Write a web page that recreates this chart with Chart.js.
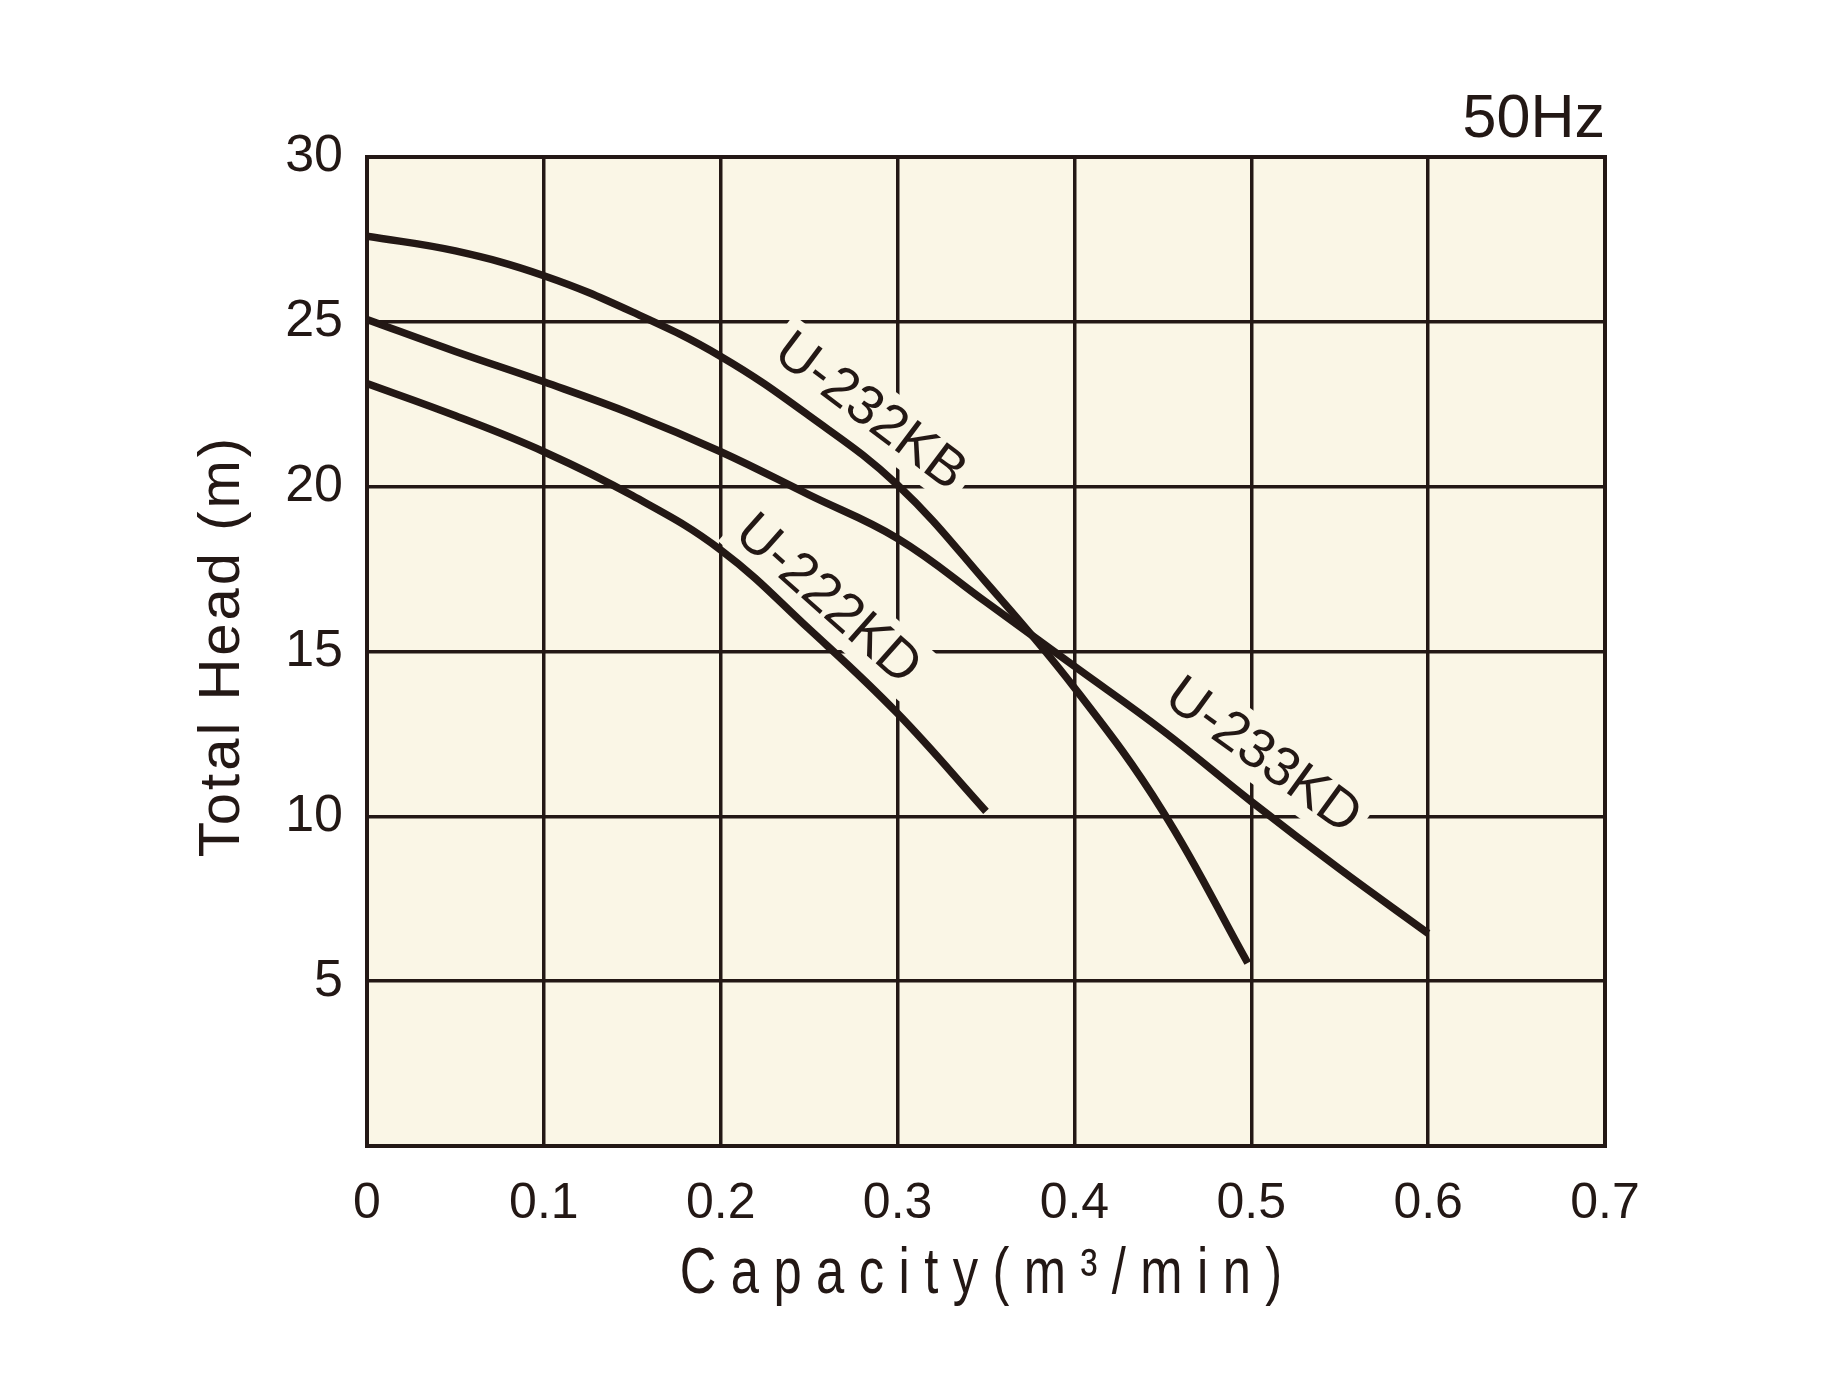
<!DOCTYPE html>
<html>
<head>
<meta charset="utf-8">
<title>Pump performance curves 50Hz</title>
<script src="https://cdn.jsdelivr.net/npm/chart.js@4.4.1/dist/chart.umd.min.js"></script>
<style>
  html, body { margin: 0; padding: 0; background: #fff; }
  #wrap { width: 1826px; height: 1381px; }
</style>
</head>
<body>
<div id="wrap"><canvas id="pumpChart" width="1826" height="1381"></canvas></div>
<script>
// capacity (m3/min) and total head (m)
const capacity232KB = [0, 0.05, 0.1, 0.15, 0.2, 0.25, 0.3, 0.35, 0.4, 0.45, 0.498];
const head232KB = [27.6, 27.15, 26.4, 25.3, 23.95, 22.15, 20.05, 17.1, 13.9, 10.15, 5.55];

const capacity233KD = [0, 0.05, 0.1, 0.15, 0.2, 0.25, 0.3, 0.35, 0.4, 0.45, 0.5, 0.55, 0.6];
const head233KD = [25.07, 24.1, 23.18, 22.2, 21.06, 19.75, 18.43, 16.5, 14.55, 12.6, 10.45, 8.4, 6.45];

const capacity222KD = [0, 0.05, 0.1, 0.15, 0.2, 0.25, 0.3, 0.35];
const head222KD = [23.13, 22.15, 21.06, 19.73, 18.08, 15.68, 13.12, 10.15];

const xTickLabels = ['0', '0.1', '0.2', '0.3', '0.4', '0.5', '0.6', '0.7'];
const yTickLabels = ['', '5', '10', '15', '20', '25', '30'];

// curve names, where they sit (data units) and their slant
const curveLabels = ['U-232KB', 'U-222KD', 'U-233KD'];
const labelCapacity = [0.285, 0.261, 0.507];
const labelHead = [22.3, 16.6, 11.86];
const labelAngle = [37, 41.5, 36];

const freqLabel = '50Hz';
const xTitle = 'Capacity(m³/min)';
const yTitle = 'Total Head (m)';

const ink = '#231815';
const plotBg = '#faf6e6';
const family = '"Liberation Sans", Arial, Helvetica, sans-serif';

function toPoints(xs, ys) {
  return xs.map((x, i) => ({ x: x, y: ys[i] }));
}

const chartTexts = {
  id: 'chartTexts',
  beforeDraw(chart) {
    const { ctx, chartArea: a } = chart;
    ctx.save();
    ctx.fillStyle = plotBg;
    ctx.fillRect(a.left, a.top, a.right - a.left, a.bottom - a.top);
    ctx.restore();
  },
  beforeDatasetsDraw(chart) {
    const { ctx, chartArea: a, scales: { x, y } } = chart;
    ctx.save();
    ctx.font = '55px ' + family;
    ctx.textAlign = 'center';
    ctx.textBaseline = 'middle';
    curveLabels.forEach((t, i) => {
      const px = x.getPixelForValue(labelCapacity[i]);
      const py = y.getPixelForValue(labelHead[i]);
      const w = ctx.measureText(t).width;
      ctx.save();
      ctx.translate(px, py);
      ctx.rotate(labelAngle[i] * Math.PI / 180);
      ctx.fillStyle = plotBg;
      ctx.fillRect(-w / 2 - 8, -30, w + 16, 60);
      ctx.fillStyle = ink;
      ctx.fillText(t, 0, 2);
      ctx.restore();
    });
    // frame round the plot
    ctx.strokeStyle = ink;
    ctx.lineWidth = 4;
    ctx.strokeRect(a.left, a.top, a.right - a.left, a.bottom - a.top);
    ctx.restore();
  },
  afterDraw(chart) {
    const { ctx, chartArea: a } = chart;
    ctx.save();
    ctx.fillStyle = ink;
    ctx.font = '61px ' + family;
    ctx.textAlign = 'right';
    ctx.textBaseline = 'alphabetic';
    ctx.fillText(freqLabel, a.right, a.top - 20);

    // x title, condensed and letter spaced
    let spacing = 18.5;
    ctx.save();
    ctx.font = '65px ' + family;
    ctx.letterSpacing = spacing + 'px';
    ctx.textAlign = 'left';
    ctx.translate((a.left + a.right) / 2 - 5, a.bottom + 147);
    ctx.scale(0.78, 1);
    let w = ctx.measureText(xTitle).width - spacing;
    ctx.fillText(xTitle, -w / 2, 0);
    ctx.restore();

    // y title
    spacing = 3;
    ctx.save();
    ctx.font = '58px ' + family;
    ctx.letterSpacing = spacing + 'px';
    ctx.textAlign = 'left';
    ctx.textBaseline = 'middle';
    ctx.translate(223, (a.top + a.bottom) / 2 - 4);
    ctx.rotate(-Math.PI / 2);
    w = ctx.measureText(yTitle).width - spacing;
    ctx.fillText(yTitle, -w / 2, 0);
    ctx.restore();
    ctx.restore();
  }
};

const ctx = document.getElementById('pumpChart').getContext('2d');
const pumpChart = new Chart(ctx, {
  type: 'line',
  data: {
    datasets: [
      { label: 'U-232KB', data: toPoints(capacity232KB, head232KB) },
      { label: 'U-233KD', data: toPoints(capacity233KD, head233KD) },
      { label: 'U-222KD', data: toPoints(capacity222KD, head222KD) }
    ].map(ds => Object.assign(ds, {
      borderColor: ink,
      borderWidth: 7.5,
      pointRadius: 0,
      fill: false,
      tension: 0.4
    }))
  },
  options: {
    responsive: false,
    animation: false,
    layout: { padding: { left: 0, right: 221, top: 157, bottom: 0 } },
    plugins: {
      legend: { display: false },
      tooltip: { enabled: false }
    },
    scales: {
      x: {
        type: 'linear',
        position: 'bottom',
        min: 0,
        max: 0.7,
        afterFit(scale) { scale.height = 235; },
        grid: { color: ink, lineWidth: 3.5, drawTicks: false },
        border: { display: true, color: ink, width: 4 },
        ticks: {
          stepSize: 0.1,
          padding: 33,
          color: ink,
          font: { family: family, size: 50, lineHeight: 1 },
          callback: (v, i) => xTickLabels[i]
        }
      },
      y: {
        type: 'linear',
        position: 'left',
        min: 0,
        max: 30,
        afterFit(scale) { scale.width = 367; },
        grid: { color: ink, lineWidth: 3.5, drawTicks: false },
        border: { display: true, color: ink, width: 4 },
        ticks: {
          stepSize: 5,
          padding: 24,
          color: ink,
          font: { family: family, size: 52, lineHeight: 1 },
          callback: (v, i) => yTickLabels[i]
        }
      }
    }
  },
  plugins: [chartTexts]
});
</script>
</body>
</html>
